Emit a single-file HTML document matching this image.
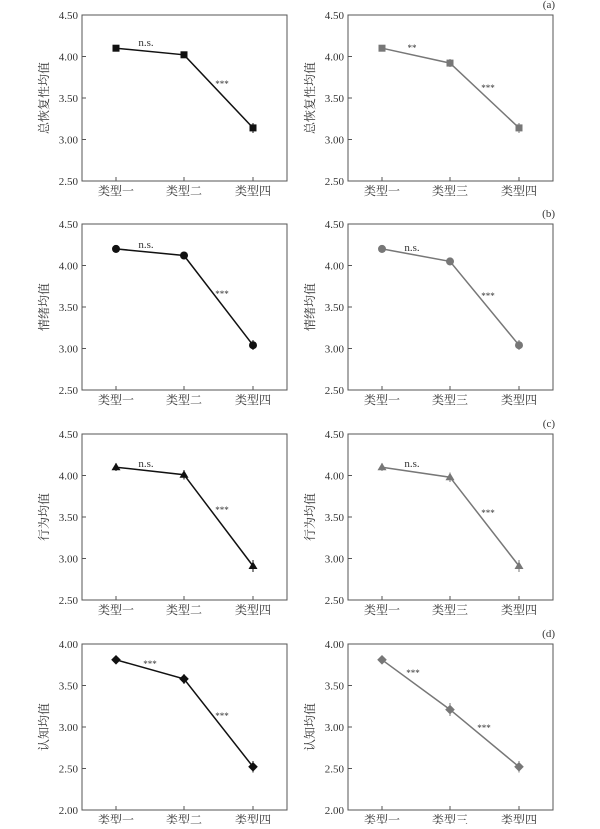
<!DOCTYPE html>
<html><head><meta charset="utf-8"><style>
body{margin:0;background:#fff}
svg text{font-family:"Liberation Serif","Noto Serif CJK SC",serif;fill:#333}
.t{font-size:11px}
.cj{font-size:12px;font-family:"Liberation Serif","Noto Serif CJK SC",serif}
</style></head><body>
<svg width="600" height="824" xmlns="http://www.w3.org/2000/svg">
<defs>
<g id="axA">
<rect x="0" y="0" width="205" height="166" fill="none" stroke="#555" stroke-width="1"/>
<g stroke="#555"><line x1="34" y1="166" x2="34" y2="162"/><line x1="102" y1="166" x2="102" y2="162"/><line x1="171" y1="166" x2="171" y2="162"/>
<line x1="0" y1="41.5" x2="4" y2="41.5"/><line x1="0" y1="83" x2="4" y2="83"/><line x1="0" y1="124.5" x2="4" y2="124.5"/></g>
<g class="t" text-anchor="end"><text x="-4" y="4">4.50</text><text x="-4" y="45.5">4.00</text><text x="-4" y="87">3.50</text><text x="-4" y="128.5">3.00</text><text x="-4" y="170">2.50</text></g>
</g>
<g id="axB">
<rect x="0" y="0" width="205" height="166" fill="none" stroke="#555" stroke-width="1"/>
<g stroke="#555"><line x1="34" y1="166" x2="34" y2="162"/><line x1="102" y1="166" x2="102" y2="162"/><line x1="171" y1="166" x2="171" y2="162"/>
<line x1="0" y1="41.5" x2="4" y2="41.5"/><line x1="0" y1="83" x2="4" y2="83"/><line x1="0" y1="124.5" x2="4" y2="124.5"/></g>
<g class="t" text-anchor="end"><text x="-4" y="4">4.00</text><text x="-4" y="45.5">3.50</text><text x="-4" y="87">3.00</text><text x="-4" y="128.5">2.50</text><text x="-4" y="170">2.00</text></g>
</g>
</defs>

<g transform="translate(82,15)">
<use href="#axA"/>
<text class="cj" transform="translate(-34,83) rotate(-90)" text-anchor="middle">总恢复性均值</text>
<g class="cj" text-anchor="middle"><text x="34" y="180">类型一</text><text x="102" y="180">类型二</text><text x="171" y="180">类型四</text></g>
<polyline points="34,33.2 102,39.8 171,112.9" fill="none" stroke="#111" stroke-width="1.5"/>
<g stroke="#111"><line x1="34" y1="30" x2="34" y2="36.5"/><line x1="102" y1="36.5" x2="102" y2="43"/><line x1="171" y1="108" x2="171" y2="118"/></g>
<g fill="#111"><rect x="30.5" y="29.7" width="7" height="7"/><rect x="98.5" y="36.3" width="7" height="7"/><rect x="167.5" y="109.4" width="7" height="7"/></g>
<text x="64" y="31" class="t" text-anchor="middle">n.s.</text><text x="140" y="72" font-size="9" text-anchor="middle">***</text>
</g>
<g transform="translate(348,15)">
<use href="#axA"/>
<text x="207" y="-7" class="t" text-anchor="end">(a)</text>
<text class="cj" transform="translate(-34,83) rotate(-90)" text-anchor="middle">总恢复性均值</text>
<g class="cj" text-anchor="middle"><text x="34" y="180">类型一</text><text x="102" y="180">类型三</text><text x="171" y="180">类型四</text></g>
<polyline points="34,33.2 102,48.1 171,112.9" fill="none" stroke="#777" stroke-width="1.5"/>
<g stroke="#777"><line x1="34" y1="30" x2="34" y2="36.5"/><line x1="102" y1="44" x2="102" y2="52"/><line x1="171" y1="108" x2="171" y2="118"/></g>
<g fill="#777"><rect x="30.5" y="29.7" width="7" height="7"/><rect x="98.5" y="44.6" width="7" height="7"/><rect x="167.5" y="109.4" width="7" height="7"/></g>
<text x="64" y="36" font-size="9" text-anchor="middle">**</text><text x="140" y="76" font-size="9" text-anchor="middle">***</text>
</g>

<g transform="translate(82,224)">
<use href="#axA"/>
<text class="cj" transform="translate(-34,83) rotate(-90)" text-anchor="middle">情绪均值</text>
<g class="cj" text-anchor="middle"><text x="34" y="180">类型一</text><text x="102" y="180">类型二</text><text x="171" y="180">类型四</text></g>
<polyline points="34,24.9 102,31.5 171,121.2" fill="none" stroke="#111" stroke-width="1.5"/>
<g stroke="#111"><line x1="34" y1="21" x2="34" y2="29"/><line x1="102" y1="27.5" x2="102" y2="35.5"/><line x1="171" y1="116" x2="171" y2="126"/></g>
<g fill="#111"><circle cx="34" cy="24.9" r="4"/><circle cx="102" cy="31.5" r="4"/><circle cx="171" cy="121.2" r="4"/></g>
<text x="64" y="24" class="t" text-anchor="middle">n.s.</text><text x="140" y="73" font-size="9" text-anchor="middle">***</text>
</g>
<g transform="translate(348,224)">
<use href="#axA"/>
<text x="207" y="-7" class="t" text-anchor="end">(b)</text>
<text class="cj" transform="translate(-34,83) rotate(-90)" text-anchor="middle">情绪均值</text>
<g class="cj" text-anchor="middle"><text x="34" y="180">类型一</text><text x="102" y="180">类型三</text><text x="171" y="180">类型四</text></g>
<polyline points="34,24.9 102,37.4 171,121.2" fill="none" stroke="#777" stroke-width="1.5"/>
<g stroke="#777"><line x1="34" y1="21" x2="34" y2="29"/><line x1="102" y1="33.5" x2="102" y2="41.5"/><line x1="171" y1="116" x2="171" y2="126"/></g>
<g fill="#777"><circle cx="34" cy="24.9" r="4"/><circle cx="102" cy="37.4" r="4"/><circle cx="171" cy="121.2" r="4"/></g>
<text x="64" y="27" class="t" text-anchor="middle">n.s.</text><text x="140" y="75" font-size="9" text-anchor="middle">***</text>
</g>

<g transform="translate(82,434)">
<use href="#axA"/>
<text class="cj" transform="translate(-34,83) rotate(-90)" text-anchor="middle">行为均值</text>
<g class="cj" text-anchor="middle"><text x="34" y="180">类型一</text><text x="102" y="180">类型二</text><text x="171" y="180">类型四</text></g>
<polyline points="34,33.2 102,40.7 171,132" fill="none" stroke="#111" stroke-width="1.5"/>
<g stroke="#111"><line x1="34" y1="29" x2="34" y2="37"/><line x1="102" y1="36" x2="102" y2="45.5"/><line x1="171" y1="126" x2="171" y2="138"/></g>
<g fill="#111"><polygon points="34,28.7 38.5,36.2 29.5,36.2"/><polygon points="102,36.2 106.5,43.7 97.5,43.7"/><polygon points="171,127.5 175.5,135 166.5,135"/></g>
<text x="64" y="33" class="t" text-anchor="middle">n.s.</text><text x="140" y="79" font-size="9" text-anchor="middle">***</text>
</g>
<g transform="translate(348,434)">
<use href="#axA"/>
<text x="207" y="-7" class="t" text-anchor="end">(c)</text>
<text class="cj" transform="translate(-34,83) rotate(-90)" text-anchor="middle">行为均值</text>
<g class="cj" text-anchor="middle"><text x="34" y="180">类型一</text><text x="102" y="180">类型三</text><text x="171" y="180">类型四</text></g>
<polyline points="34,33.2 102,43.2 171,132" fill="none" stroke="#777" stroke-width="1.5"/>
<g stroke="#777"><line x1="34" y1="29" x2="34" y2="37"/><line x1="102" y1="38.5" x2="102" y2="48"/><line x1="171" y1="126" x2="171" y2="138"/></g>
<g fill="#777"><polygon points="34,28.7 38.5,36.2 29.5,36.2"/><polygon points="102,38.7 106.5,46.2 97.5,46.2"/><polygon points="171,127.5 175.5,135 166.5,135"/></g>
<text x="64" y="33" class="t" text-anchor="middle">n.s.</text><text x="140" y="82" font-size="9" text-anchor="middle">***</text>
</g>

<g transform="translate(82,644)">
<use href="#axB"/>
<text class="cj" transform="translate(-34,83) rotate(-90)" text-anchor="middle">认知均值</text>
<g class="cj" text-anchor="middle"><text x="34" y="180">类型一</text><text x="102" y="180">类型二</text><text x="171" y="180">类型四</text></g>
<polyline points="34,15.8 102,34.9 171,122.8" fill="none" stroke="#111" stroke-width="1.5"/>
<g stroke="#111"><line x1="34" y1="12.5" x2="34" y2="19"/><line x1="102" y1="30" x2="102" y2="40"/><line x1="171" y1="117" x2="171" y2="128.5"/></g>
<g fill="#111"><polygon points="34,11 38.8,15.8 34,20.6 29.2,15.8"/><polygon points="102,30.1 106.8,34.9 102,39.7 97.2,34.9"/><polygon points="171,118 175.8,122.8 171,127.6 166.2,122.8"/></g>
<text x="68" y="23" font-size="9" text-anchor="middle">***</text><text x="140" y="75" font-size="9" text-anchor="middle">***</text>
</g>
<g transform="translate(348,644)">
<use href="#axB"/>
<text x="207" y="-7" class="t" text-anchor="end">(d)</text>
<text class="cj" transform="translate(-34,83) rotate(-90)" text-anchor="middle">认知均值</text>
<g class="cj" text-anchor="middle"><text x="34" y="180">类型一</text><text x="102" y="180">类型三</text><text x="171" y="180">类型四</text></g>
<polyline points="34,15.8 102,65.6 171,122.8" fill="none" stroke="#777" stroke-width="1.5"/>
<g stroke="#777"><line x1="34" y1="12.5" x2="34" y2="19"/><line x1="102" y1="59" x2="102" y2="72"/><line x1="171" y1="117" x2="171" y2="128.5"/></g>
<g fill="#777"><polygon points="34,11 38.8,15.8 34,20.6 29.2,15.8"/><polygon points="102,60.8 106.8,65.6 102,70.4 97.2,65.6"/><polygon points="171,118 175.8,122.8 171,127.6 166.2,122.8"/></g>
<text x="65" y="32" font-size="9" text-anchor="middle">***</text><text x="136" y="87" font-size="9" text-anchor="middle">***</text>
</g>
</svg>
</body></html>
